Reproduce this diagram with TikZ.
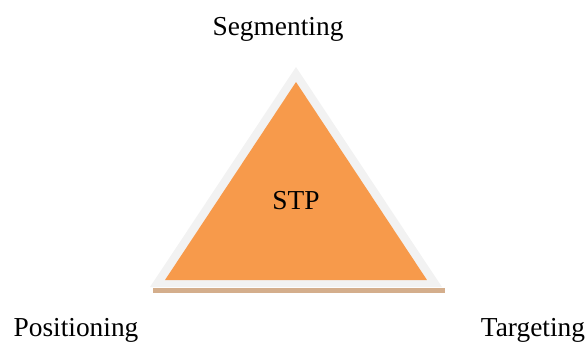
\documentclass[tikz,border=0pt]{standalone}
\usepackage{fontspec}
\setmainfont{Liberation Serif}
\definecolor{stporange}{HTML}{F79A4B}
\definecolor{stpgray}{HTML}{F2F2F2}
\definecolor{stpshadow}{HTML}{D4AE8C}
\begin{document}
\begin{tikzpicture}[x=0.5pt,y=-0.5pt,every node/.style={font=\fontsize{13.7}{16}\selectfont,inner sep=0pt,anchor=base}]
  \useasboundingbox (0,0) rectangle (586,345);
  % shadow strip under the triangle
  \fill[stpshadow] (153,288) rectangle (445,293);
  % outer and inner triangle
  \fill[stpgray] (296,67) -- (442,287) -- (150,287) -- cycle;
  \fill[stporange] (296,82) -- (427,280) -- (165,280) -- cycle;
  \node (stp) at (296,209) {STP};
  \node (seg) at (278,35) {Segmenting};
  \node (pos) at (76,336) {Positioning};
  \node (tar) at (533,336) {Targeting};
\end{tikzpicture}
\end{document}
